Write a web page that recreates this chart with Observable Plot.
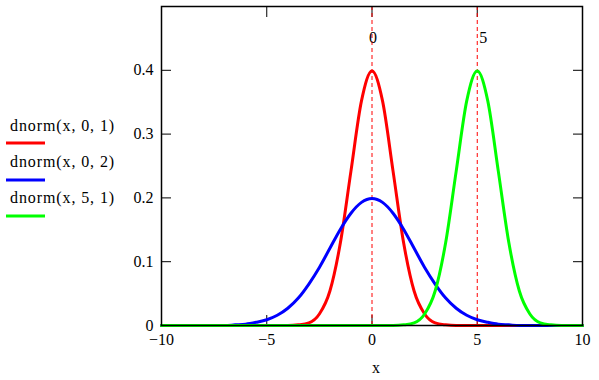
<!DOCTYPE html>
<html>
<head>
<meta charset="utf-8">
<script src="https://cdn.jsdelivr.net/npm/d3@7"></script>
<script src="https://cdn.jsdelivr.net/npm/@observablehq/plot@0.6"></script>
<style>
  html, body { margin: 0; padding: 0; background: #fff; }
  #chart { width: 599px; height: 380px; }
  #chart svg text { font-family: "Liberation Serif", serif; }
</style>
</head>
<body>
<div id="chart"></div>
<script>
// x grid
const xs = [-10, -9.5, -9, -8.5, -8, -7.5, -7, -6.5, -6, -5.5, -5, -4.5, -4, -3.5, -3, -2.5, -2, -1.5, -1, -0.5,
  0, 0.5, 1, 1.5, 2, 2.5, 3, 3.5, 4, 4.5, 5, 5.5, 6, 6.5, 7, 7.5, 8, 8.5, 9, 9.5, 10];
// dnorm(x,0,1)
const redValues = [0, 0, 0, 0, 0, 0, 0, 0, 0, 0, 0, 0, 0, 0.001, 0.004, 0.018, 0.054, 0.130, 0.242, 0.352,
  0.399, 0.352, 0.242, 0.130, 0.054, 0.018, 0.004, 0.001, 0, 0, 0, 0, 0, 0, 0, 0, 0, 0, 0, 0, 0];
// dnorm(x,0,2)
const blueValues = [0, 0, 0, 0, 0, 0, 0, 0.001, 0.002, 0.005, 0.009, 0.016, 0.027, 0.043, 0.065, 0.091, 0.121, 0.151, 0.176, 0.193,
  0.199, 0.193, 0.176, 0.151, 0.121, 0.091, 0.065, 0.043, 0.027, 0.016, 0.009, 0.005, 0.002, 0.001, 0, 0, 0, 0, 0, 0, 0];
// dnorm(x,5,1)
const greenValues = [0, 0, 0, 0, 0, 0, 0, 0, 0, 0, 0, 0, 0, 0, 0, 0, 0, 0, 0, 0,
  0, 0, 0, 0.001, 0.004, 0.018, 0.054, 0.130, 0.242, 0.352, 0.399, 0.352, 0.242, 0.130, 0.054, 0.018, 0.004, 0.001, 0, 0, 0];

const seriesNames = ["dnorm(x, 0, 1)", "dnorm(x, 0, 2)", "dnorm(x, 5, 1)"];
const seriesColors = ["#ff0000", "#0000ff", "#00ff00"];
const markers = [0, 5];
const xTicks = [-10, -5, 0, 5, 10];
const yTicks = [0, 0.1, 0.2, 0.3, 0.4];
const xLabel = "x";

const FONT = "Liberation Serif, serif";
const seriesValues = [redValues, blueValues, greenValues];
const series = seriesValues.map((vals, k) => xs.map((x, i) => ({x, y: vals[i], s: seriesNames[k]})));

const W = 599, H = 380;
const mL = 161, mR = 17, mT = 6, mB = 55;
const fmt = d => (d < 0 ? "\u2212" + String(-d) : String(d));

const plot = Plot.plot({
  width: W,
  height: H,
  marginLeft: mL,
  marginRight: mR,
  marginTop: mT,
  marginBottom: mB,
  style: {fontFamily: FONT, fontSize: "16px", color: "black", background: "white", overflow: "visible"},
  x: {domain: [-10, 10]},
  y: {domain: [0, 0.5]},
  marks: [
    // inward ticks
    Plot.axisX(xTicks, {anchor: "bottom", tickSize: -10, fill: "none", label: null}),
    Plot.axisX(xTicks, {anchor: "top", tickSize: -10, fill: "none", label: null}),
    Plot.axisY(yTicks, {anchor: "left", tickSize: -10, fill: "none", label: null}),
    Plot.axisY(yTicks, {anchor: "right", tickSize: -10, fill: "none", label: null}),
    // tick labels
    Plot.axisX(xTicks, {anchor: "bottom", tickSize: 0, tickPadding: 8, fontSize: 16, fontFamily: FONT, tickFormat: fmt, label: null}),
    Plot.axisY(yTicks, {anchor: "left", tickSize: 0, tickPadding: 8, fontSize: 16, fontFamily: FONT, tickFormat: fmt, label: null}),
    Plot.text([xLabel], {frameAnchor: "bottom", text: d => d, dy: 42, dx: 4, fontSize: 16, fontFamily: FONT, lineAnchor: "middle"}),
    // markers
    Plot.ruleX(markers, {x: d => d, stroke: "#ff0000", strokeWidth: 1, strokeDasharray: "4,3"}),
    Plot.text(markers.slice(0, 1), {x: d => d, text: d => String(d), frameAnchor: "top", dy: 31, dx: 1, fontSize: 16, fontFamily: FONT, lineAnchor: "middle"}),
    Plot.text(markers.slice(1), {x: d => d, text: d => String(d), frameAnchor: "top", dy: 31, dx: 6, fontSize: 16, fontFamily: FONT, lineAnchor: "middle"}),
    // curves
    ...series.map((data, k) => Plot.line(data, {x: "x", y: "y", stroke: seriesColors[k], strokeWidth: 3, curve: "monotone-x"})),
    Plot.frame({stroke: "black", strokeWidth: 1.5})
  ]
});

document.getElementById("chart").appendChild(plot);

// legend on the left
const svg = d3.select(plot);
const legend = svg.append("g").attr("font-family", FONT).attr("font-size", 16).attr("text-anchor", "start");
const baselines = [131, 167, 203];
const swatchY = [143, 180, 216];
seriesNames.forEach((name, k) => {
  legend.append("text").attr("x", 10).attr("y", baselines[k]).attr("fill", "black")
    .attr("text-anchor", "start").attr("letter-spacing", "0.9px").text(name);
  legend.append("line").attr("x1", 6).attr("x2", 45).attr("y1", swatchY[k]).attr("y2", swatchY[k])
    .attr("stroke", seriesColors[k]).attr("stroke-width", 3);
});
</script>
</body>
</html>
